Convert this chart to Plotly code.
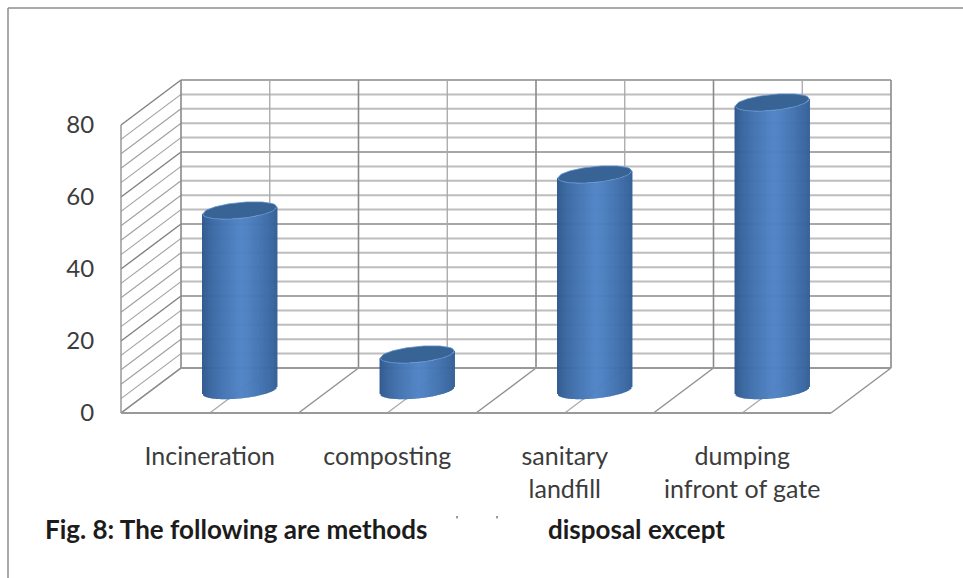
import plotly.graph_objects as go

# Survey results shown as a 3D-style cylinder chart
categories = ["Incineration", "composting", "sanitary<br>landfill", "dumping<br>infront of gate"]
values = [50, 10, 60, 80]
value_ticks = [0, 20, 40, 60, 80]
minor_step = 4

W, H = 963, 578
LEFT, BASE = 121, 413        # front-left floor corner on the page
CAT_PX, UNIT_PX = 177.5, 3.6 # page scale of one category and of one value unit
DEPTH_X = 60 / CAT_PX        # oblique depth offset, in data units
DEPTH_Y = 45 / UNIT_PX
RADIUS_X = 37 / CAT_PX       # cylinder ellipse
RADIUS_Y = 8 / UNIT_PX
TILT_Y = 3.5 / UNIT_PX

MAJOR, MINOR, THIN = "#8a8a8a", "#bdbdbd", "#a8a8a8"
ymax = max(value_ticks)
n = len(categories)
traces = []


def line(xs, ys, color, width):
    traces.append(go.Scatter(x=xs, y=ys, mode="lines", line=dict(color=color, width=width),
                             hoverinfo="skip", showlegend=False))


# Horizontal rules on the back and left walls
for v in range(0, ymax + 1, minor_step):
    major = v in value_ticks
    line([DEPTH_X, n + DEPTH_X], [v + DEPTH_Y] * 2, MAJOR if major else MINOR, 1.7 if major else 2)
    line([0, DEPTH_X], [v, v + DEPTH_Y], "#808080" if major else "#a0a0a0", 1.4 if major else 1.1)

# Vertical rules and the floor lines that run forward from them
for k in range(0, 2 * n + 1):
    c = k / 2
    major = k % 2 == 0
    line([c + DEPTH_X] * 2, [DEPTH_Y, ymax + DEPTH_Y], MAJOR if major else THIN, 1.6 if major else 1.3)
    line([c, c + DEPTH_X], [0, DEPTH_Y], "#909090" if major else THIN, 1.4 if major else 1.2)

line([0, 0], [0, ymax], "#999999", 1.5)
line([0, n], [0, 0], "#999999", 2.2)
line([DEPTH_X, n + DEPTH_X], [DEPTH_Y, DEPTH_Y], "#999999", 2.2)


def shade(t):
    """Side colour of a cylinder at horizontal position t in [-1, 1]."""
    edge, mid = (44, 86, 140), (80, 132, 198)
    f = max(0.0, 1 - abs(t - 0.05) / 1.05) ** 0.7
    return "rgb(%d,%d,%d)" % tuple(round(a + (b - a) * f) for a, b in zip(edge, mid))


STRIPS = 74
ARC = 48
for i, v in enumerate(values):
    cx = i + 0.5 + DEPTH_X / 2
    cy = DEPTH_Y / 2
    # side of the cylinder, one narrow shaded strip at a time
    for s in range(STRIPS + 1):
        t = -1 + 2 * s / STRIPS
        half = (1 - t * t) ** 0.5 * RADIUS_Y
        tilt = t * TILT_Y
        line([cx + t * RADIUS_X] * 2, [cy + tilt - half, cy + v + tilt - half], shade(t), 1.4)
    # flat lid
    lid_x = []
    lid_y = []
    for a in range(ARC + 1):
        t = -1 + 2 * a / ARC
        half = (1 - t * t) ** 0.5 * RADIUS_Y
        lid_x.append(cx + t * RADIUS_X)
        lid_y.append(cy + v + t * TILT_Y + half)
    for a in range(ARC, -1, -1):
        t = -1 + 2 * a / ARC
        half = (1 - t * t) ** 0.5 * RADIUS_Y
        lid_x.append(cx + t * RADIUS_X)
        lid_y.append(cy + v + t * TILT_Y - half)
    traces.append(go.Scatter(x=lid_x, y=lid_y, mode="lines", fill="toself", fillcolor="#376395",
                             line=dict(color="#5f92cf", width=0.8), hoverinfo="skip", showlegend=False))

fig = go.Figure(traces)
label_font = dict(size=25, family="Lato", color="#3c3c3c")
caption_font = dict(size=26, family="Lato", color="#1c1c1c")
fig.update_layout(
    width=W, height=H, margin=dict(l=0, r=0, t=0, b=0),
    paper_bgcolor="white", plot_bgcolor="white", showlegend=False,
    font=dict(family="Lato", color="#3c3c3c"),
    xaxis=dict(domain=[0, 1], range=[-LEFT / CAT_PX, (W - LEFT) / CAT_PX],
               anchor="free", position=(H - BASE) / H, showgrid=False, zeroline=False,
               tickmode="array", tickvals=[i + 0.5 for i in range(n)], ticktext=categories,
               ticks="outside", ticklen=21, tickcolor="rgba(0,0,0,0)", tickangle=0,
               tickfont=label_font),
    yaxis=dict(domain=[0, 1], range=[(BASE - H) / UNIT_PX, BASE / UNIT_PX],
               anchor="free", position=LEFT / W, showgrid=False, zeroline=False,
               tickmode="array", tickvals=value_ticks, ticktext=[str(t) for t in value_ticks],
               ticks="outside", ticklen=22, tickcolor="rgba(0,0,0,0)",
               tickfont=dict(size=24, family="Lato", color="#3c3c3c")),
    shapes=[
        dict(type="line", xref="paper", yref="paper", x0=8 / W, x1=8 / W, y0=0, y1=1 - 8 / H,
             line=dict(color="#8c8c8c", width=1.5)),
        dict(type="line", xref="paper", yref="paper", x0=8 / W, x1=1, y0=1 - 8 / H, y1=1 - 8 / H,
             line=dict(color="#8c8c8c", width=1.5)),
    ],
    annotations=[
        dict(text="<b>Fig. 8: The following are methods</b>", xref="paper", yref="paper",
             x=43 / W, y=1 - 529 / H, xanchor="left", yanchor="middle", showarrow=False,
             font=caption_font),
        dict(text="<b>disposal except</b>", xref="paper", yref="paper",
             x=546 / W, y=1 - 529 / H, xanchor="left", yanchor="middle", showarrow=False,
             font=caption_font),
        dict(text="<b>'</b>", xref="paper", yref="paper", x=457 / W, y=1 - 519 / H,
             xanchor="center", yanchor="middle", showarrow=False, font=dict(size=9, family="Lato", color="#333333")),
        dict(text="<b>'</b>", xref="paper", yref="paper", x=497 / W, y=1 - 519 / H,
             xanchor="center", yanchor="middle", showarrow=False, font=dict(size=9, family="Lato", color="#333333")),
    ],
)
fig.write_html("out.html")
